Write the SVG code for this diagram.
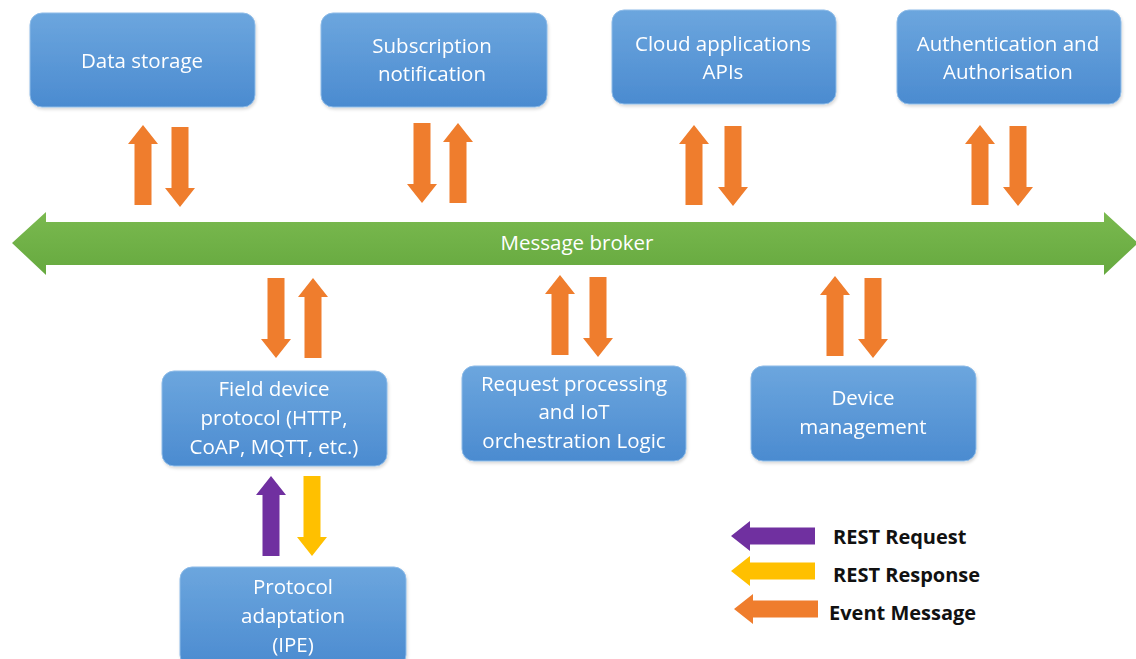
<svg xmlns="http://www.w3.org/2000/svg" xmlns:xlink="http://www.w3.org/1999/xlink" width="1136" height="659" viewBox="0 0 1136 659">
<style>
.box{fill:url(#bg);stroke:#8dbbe8;stroke-width:1}
.t{font-family:"Open Sans","Liberation Sans",sans-serif;font-size:20.5px;fill:#ffffff;text-anchor:middle}
.lg{font-family:"Open Sans","Liberation Sans",sans-serif;font-size:20px;font-weight:bold;fill:#111111}
.or{fill:#ef7d2d}
.pu{fill:#7030a0}
.ye{fill:#ffc000}
</style>
<defs>
<linearGradient id="bg" x1="0" y1="0" x2="0" y2="1">
<stop offset="0" stop-color="#6ca6de"/>
<stop offset="1" stop-color="#4b8bd0"/>
</linearGradient>
<linearGradient id="gg" x1="0" y1="0" x2="0" y2="1">
<stop offset="0" stop-color="#7ab94f"/>
<stop offset="1" stop-color="#66a93f"/>
</linearGradient>
<path id="up" d="M0,0 L15,19 L8.5,19 L8.5,80 L-8.5,80 L-8.5,19 L-15,19 Z"/>
<path id="dn" d="M0,80 L15,61 L8.5,61 L8.5,0 L-8.5,0 L-8.5,61 L-15,61 Z"/>
<path id="lf" d="M0,0 L19,-15 L19,-8.5 L84,-8.5 L84,8.5 L19,8.5 L19,15 Z"/>
<filter id="sh" x="-5%" y="-5%" width="110%" height="115%">
<feDropShadow dx="1" dy="2" stdDeviation="1.5" flood-color="#000" flood-opacity="0.15"/>
</filter>
</defs>
<rect width="1136" height="659" fill="#ffffff"/>

<g id="bus">
<path d="M12,243 L46,212 L46,222 L1104,222 L1104,212 L1138,243 L1104,275 L1104,265 L46,265 L46,275 Z" fill="url(#gg)"/>
<text class="t" x="577" y="250" style="font-size:20.5px">Message broker</text>
</g>

<g id="connectors">
<use href="#up" class="or" x="143" y="125"/>
<use href="#dn" class="or" x="180" y="127"/>
<use href="#dn" class="or" x="422" y="123"/>
<use href="#up" class="or" x="458" y="123"/>
<use href="#up" class="or" x="694" y="125"/>
<use href="#dn" class="or" x="733" y="126"/>
<use href="#up" class="or" x="980" y="125"/>
<use href="#dn" class="or" x="1018" y="126"/>
<use href="#dn" class="or" x="276" y="278"/>
<use href="#up" class="or" x="313" y="278"/>
<use href="#up" class="or" x="560" y="275"/>
<use href="#dn" class="or" x="598" y="277"/>
<use href="#up" class="or" x="835" y="276"/>
<use href="#dn" class="or" x="873" y="278"/>
<use href="#up" class="pu" x="271" y="476"/>
<use href="#dn" class="ye" x="312" y="476"/>
</g>

<g id="data-storage" filter="url(#sh)">
<rect class="box" x="30" y="13" width="225" height="94" rx="12"/>
<text class="t" x="142" y="68">Data storage</text>
</g>
<g id="subscription" filter="url(#sh)">
<rect class="box" x="321" y="13" width="226" height="94" rx="12"/>
<text class="t" x="432" y="53">Subscription</text>
<text class="t" x="432" y="81">notification</text>
</g>
<g id="cloud-apis" filter="url(#sh)">
<rect class="box" x="612" y="10" width="224" height="94" rx="12"/>
<text class="t" x="723" y="51">Cloud applications</text>
<text class="t" x="723" y="79">APIs</text>
</g>
<g id="auth" filter="url(#sh)">
<rect class="box" x="897" y="10" width="224" height="94" rx="12"/>
<text class="t" x="1008" y="51">Authentication and</text>
<text class="t" x="1008" y="79">Authorisation</text>
</g>
<g id="field-device" filter="url(#sh)">
<rect class="box" x="162" y="371" width="225" height="95" rx="12"/>
<text class="t" x="274" y="396">Field device</text>
<text class="t" x="274" y="425">protocol (HTTP,</text>
<text class="t" x="274" y="454">CoAP, MQTT, etc.)</text>
</g>
<g id="request-processing" filter="url(#sh)">
<rect class="box" x="462" y="366" width="224" height="95" rx="12"/>
<text class="t" x="574" y="391">Request processing</text>
<text class="t" x="574" y="419">and IoT</text>
<text class="t" x="574" y="448">orchestration Logic</text>
</g>
<g id="device-management" filter="url(#sh)">
<rect class="box" x="751" y="366" width="225" height="95" rx="12"/>
<text class="t" x="863" y="405">Device</text>
<text class="t" x="863" y="434">management</text>
</g>
<g id="protocol-adaptation" filter="url(#sh)">
<rect class="box" x="180" y="567" width="226" height="100" rx="12"/>
<text class="t" x="293" y="594">Protocol</text>
<text class="t" x="293" y="623">adaptation</text>
<text class="t" x="293" y="652">(IPE)</text>
</g>

<g id="legend">
<use href="#lf" class="pu" x="731" y="536"/>
<text class="lg" x="833" y="544">REST Request</text>
<use href="#lf" class="ye" x="731" y="571"/>
<text class="lg" x="833" y="582">REST Response</text>
<use href="#lf" class="or" x="734" y="609"/>
<text class="lg" x="829" y="620">Event Message</text>
</g>
</svg>
